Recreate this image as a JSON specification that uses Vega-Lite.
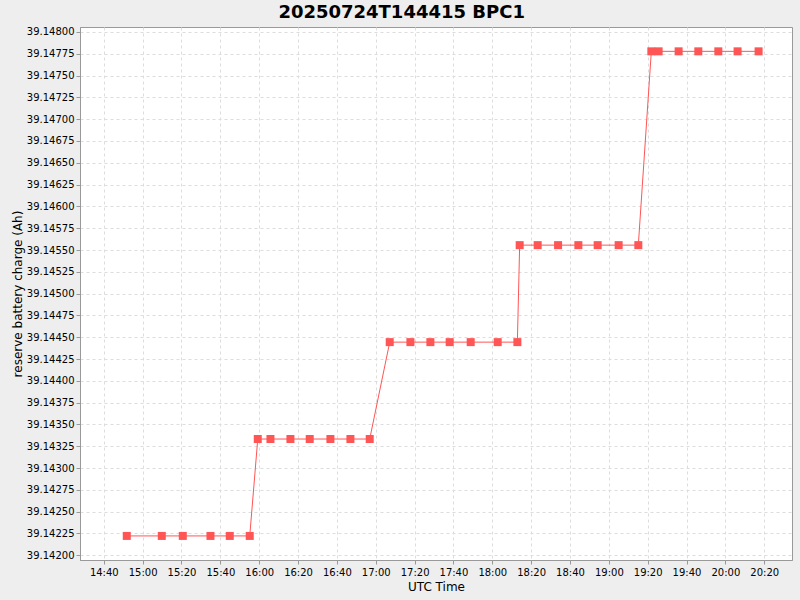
{
  "$schema": "https://vega.github.io/schema/vega-lite/v6.json",
  "width": 712,
  "height": 533,
  "autosize": {"type": "none"},
  "padding": {"left": 80, "top": 27, "right": 8, "bottom": 40},
  "background": "#eeeeee",
  "view": {"fill": "white", "stroke": "#999999", "strokeWidth": 1},
  "title": {"text": "20250724T144415 BPC1", "anchor": "middle", "frame": "bounds", "fontSize": 18, "fontWeight": "bold", "font": "DejaVu Sans", "color": "#000000", "offset": 5},
  "data": {"values": [
    {"t": "2025-07-24T14:51:50Z", "v": 39.142222},
    {"t": "2025-07-24T15:09:51Z", "v": 39.142222},
    {"t": "2025-07-24T15:20:40Z", "v": 39.142222},
    {"t": "2025-07-24T15:34:55Z", "v": 39.142222},
    {"t": "2025-07-24T15:44:51Z", "v": 39.142222},
    {"t": "2025-07-24T15:55:08Z", "v": 39.142222},
    {"t": "2025-07-24T15:59:16Z", "v": 39.143333},
    {"t": "2025-07-24T16:05:48Z", "v": 39.143333},
    {"t": "2025-07-24T16:16:05Z", "v": 39.143333},
    {"t": "2025-07-24T16:26:01Z", "v": 39.143333},
    {"t": "2025-07-24T16:36:40Z", "v": 39.143333},
    {"t": "2025-07-24T16:46:58Z", "v": 39.143333},
    {"t": "2025-07-24T16:56:54Z", "v": 39.143333},
    {"t": "2025-07-24T17:07:12Z", "v": 39.144444},
    {"t": "2025-07-24T17:17:51Z", "v": 39.144444},
    {"t": "2025-07-24T17:28:08Z", "v": 39.144444},
    {"t": "2025-07-24T17:38:04Z", "v": 39.144444},
    {"t": "2025-07-24T17:48:53Z", "v": 39.144444},
    {"t": "2025-07-24T18:02:47Z", "v": 39.144444},
    {"t": "2025-07-24T18:12:55Z", "v": 39.144444},
    {"t": "2025-07-24T18:14:06Z", "v": 39.145556},
    {"t": "2025-07-24T18:23:22Z", "v": 39.145556},
    {"t": "2025-07-24T18:33:52Z", "v": 39.145556},
    {"t": "2025-07-24T18:44:19Z", "v": 39.145556},
    {"t": "2025-07-24T18:54:15Z", "v": 39.145556},
    {"t": "2025-07-24T19:05:03Z", "v": 39.145556},
    {"t": "2025-07-24T19:15:11Z", "v": 39.145556},
    {"t": "2025-07-24T19:21:53Z", "v": 39.147778},
    {"t": "2025-07-24T19:25:38Z", "v": 39.147778},
    {"t": "2025-07-24T19:35:56Z", "v": 39.147778},
    {"t": "2025-07-24T19:46:04Z", "v": 39.147778},
    {"t": "2025-07-24T19:56:22Z", "v": 39.147778},
    {"t": "2025-07-24T20:06:17Z", "v": 39.147778},
    {"t": "2025-07-24T20:17:06Z", "v": 39.147778}
  ]},
  "encoding": {
    "x": {
      "field": "t", "type": "temporal",
      "scale": {"type": "utc", "nice": false, "domain": [
        {"year": 2025, "month": 7, "date": 24, "hours": 14, "minutes": 27, "seconds": 45, "utc": true},
        {"year": 2025, "month": 7, "date": 24, "hours": 20, "minutes": 34, "seconds": 18, "utc": true}
      ]},
      "axis": {
        "title": "UTC Time",
        "values": [
          {"year": 2025, "month": 7, "date": 24, "hours": 14, "minutes": 40, "utc": true},
          {"year": 2025, "month": 7, "date": 24, "hours": 15, "minutes": 0, "utc": true},
          {"year": 2025, "month": 7, "date": 24, "hours": 15, "minutes": 20, "utc": true},
          {"year": 2025, "month": 7, "date": 24, "hours": 15, "minutes": 40, "utc": true},
          {"year": 2025, "month": 7, "date": 24, "hours": 16, "minutes": 0, "utc": true},
          {"year": 2025, "month": 7, "date": 24, "hours": 16, "minutes": 20, "utc": true},
          {"year": 2025, "month": 7, "date": 24, "hours": 16, "minutes": 40, "utc": true},
          {"year": 2025, "month": 7, "date": 24, "hours": 17, "minutes": 0, "utc": true},
          {"year": 2025, "month": 7, "date": 24, "hours": 17, "minutes": 20, "utc": true},
          {"year": 2025, "month": 7, "date": 24, "hours": 17, "minutes": 40, "utc": true},
          {"year": 2025, "month": 7, "date": 24, "hours": 18, "minutes": 0, "utc": true},
          {"year": 2025, "month": 7, "date": 24, "hours": 18, "minutes": 20, "utc": true},
          {"year": 2025, "month": 7, "date": 24, "hours": 18, "minutes": 40, "utc": true},
          {"year": 2025, "month": 7, "date": 24, "hours": 19, "minutes": 0, "utc": true},
          {"year": 2025, "month": 7, "date": 24, "hours": 19, "minutes": 20, "utc": true},
          {"year": 2025, "month": 7, "date": 24, "hours": 19, "minutes": 40, "utc": true},
          {"year": 2025, "month": 7, "date": 24, "hours": 20, "minutes": 0, "utc": true},
          {"year": 2025, "month": 7, "date": 24, "hours": 20, "minutes": 20, "utc": true}
        ],
        "labelExpr": "utcFormat(datum.value, '%H:%M')",
        "labelFont": "DejaVu Sans", "labelFontSize": 10, "labelColor": "#000000",
        "titleFont": "DejaVu Sans", "titleFontSize": 12, "titleFontWeight": "normal", "titleColor": "#000000",
        "titlePadding": 4,
        "grid": true, "gridColor": "#dddddd", "gridDash": [3, 3],
        "domainColor": "#999999", "tickColor": "#999999", "tickSize": 4, "labelPadding": 3, "labelFlush": false
      }
    },
    "y": {
      "field": "v", "type": "quantitative",
      "scale": {"domain": [39.141946, 39.148057], "nice": false, "zero": false},
      "axis": {
        "title": "reserve battery charge (Ah)", "format": ".5f",
        "values": [39.142, 39.14225, 39.1425, 39.14275, 39.143, 39.14325, 39.1435, 39.14375, 39.144, 39.14425, 39.1445, 39.14475, 39.145, 39.14525, 39.1455, 39.14575, 39.146, 39.14625, 39.1465, 39.14675, 39.147, 39.14725, 39.1475, 39.14775, 39.148],
        "labelFont": "DejaVu Sans", "labelFontSize": 10, "labelColor": "#000000",
        "titleFont": "DejaVu Sans", "titleFontSize": 12, "titleFontWeight": "normal", "titleColor": "#000000",
        "titlePadding": 2,
        "grid": true, "gridColor": "#dddddd", "gridDash": [3, 3],
        "domainColor": "#999999", "tickColor": "#999999", "tickSize": 4, "labelPadding": 2
      }
    }
  },
  "layer": [
    {"mark": {"type": "line", "color": "#ff5555", "strokeWidth": 1}},
    {"mark": {"type": "point", "shape": "square", "filled": true, "size": 64, "color": "#ff5555", "opacity": 1}}
  ]
}
